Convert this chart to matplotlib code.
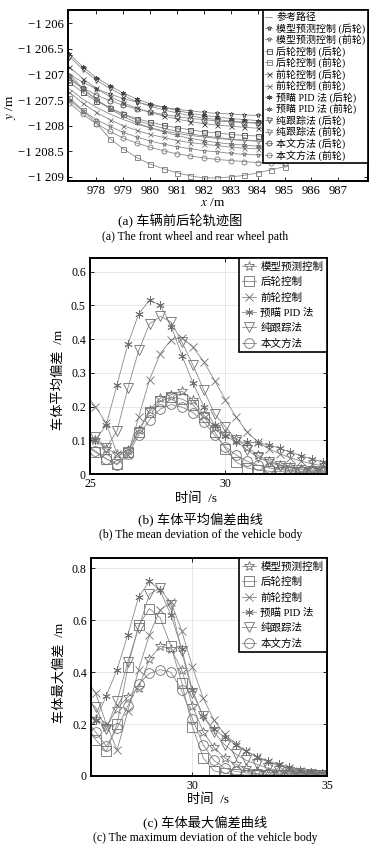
import matplotlib
matplotlib.use('Agg')
import matplotlib.pyplot as plt

plt.rcParams['font.family'] = ['Liberation Serif', 'Noto Sans CJK SC']
plt.rcParams['mathtext.fontset'] = 'stix'
plt.rcParams['axes.unicode_minus'] = True

# ---- (a) wheel paths ----
xa = [977.0, 977.5, 978.0, 978.5, 979.0, 979.5, 980.0, 980.5, 981.0, 981.5,
      982.0, 982.5, 983.0, 983.5, 984.0, 984.5, 985.0]
ref_path = [-1207.28, -1207.48, -1207.64, -1207.77, -1207.88, -1207.97, -1208.04, -1208.10, -1208.15,
            -1208.19, -1208.22, -1208.25, -1208.27, -1208.29, -1208.30, -1208.31, -1208.32]
mpc_rear = [-1207.00, -1207.15, -1207.28, -1207.38, -1207.47, -1207.54, -1207.60, -1207.64, -1207.68,
            -1207.71, -1207.74, -1207.76, -1207.77, -1207.79, -1207.80, -1207.81, -1207.82]
mpc_front = [-1207.50, -1207.71, -1207.88, -1208.01, -1208.13, -1208.22, -1208.30, -1208.36, -1208.41,
             -1208.45, -1208.49, -1208.51, -1208.54, -1208.56, -1208.57, -1208.58, -1208.59]
rwc_rear = [-1207.15, -1207.35, -1207.52, -1207.65, -1207.77, -1207.86, -1207.93, -1207.99, -1208.04,
            -1208.08, -1208.12, -1208.14, -1208.17, -1208.19, -1208.20, -1208.21, -1208.22]
rwc_front = [-1207.45, -1207.70, -1207.95, -1208.25, -1208.45, -1208.62, -1208.75, -1208.84, -1208.92,
             -1208.98, -1209.02, -1209.02, -1209.00, -1208.97, -1208.92, -1208.86, -1208.80]
fwc_rear = [-1206.85, -1207.08, -1207.27, -1207.43, -1207.55, -1207.66, -1207.74, -1207.81, -1207.87,
            -1207.92, -1207.96, -1207.99, -1208.01, -1208.03, -1208.05, -1208.06, -1208.08]
fwc_front = [-1207.35, -1207.56, -1207.74, -1207.88, -1208.00, -1208.09, -1208.17, -1208.23, -1208.29,
             -1208.33, -1208.36, -1208.39, -1208.42, -1208.44, -1208.45, -1208.46, -1208.47]
pid_rear = [-1206.60, -1206.85, -1207.06, -1207.22, -1207.36, -1207.48, -1207.57, -1207.64, -1207.70,
            -1207.76, -1207.80, -1207.83, -1207.86, -1207.88, -1207.90, -1207.92, -1207.93]
pid_front = [-1207.00, -1207.27, -1207.49, -1207.67, -1207.82, -1207.94, -1208.04, -1208.12, -1208.19,
             -1208.25, -1208.29, -1208.33, -1208.36, -1208.38, -1208.40, -1208.42, -1208.43]
pp_rear = [-1206.65, -1206.90, -1207.11, -1207.27, -1207.41, -1207.53, -1207.62, -1207.69, -1207.75,
           -1207.81, -1207.85, -1207.88, -1207.91, -1207.93, -1207.95, -1207.97, -1207.98]
pp_front = [-1207.05, -1207.29, -1207.49, -1207.65, -1207.78, -1207.89, -1207.98, -1208.05, -1208.11,
            -1208.16, -1208.20, -1208.23, -1208.26, -1208.28, -1208.30, -1208.32, -1208.33]
ours_rear = [-1207.10, -1207.26, -1207.40, -1207.51, -1207.60, -1207.67, -1207.73, -1207.78, -1207.82,
             -1207.86, -1207.88, -1207.91, -1207.92, -1207.94, -1207.95, -1207.96, -1207.97]
ours_front = [-1207.55, -1207.78, -1207.96, -1208.11, -1208.24, -1208.34, -1208.42, -1208.49, -1208.55,
              -1208.59, -1208.63, -1208.66, -1208.68, -1208.70, -1208.72, -1208.73, -1208.75]

xa_ticks = [978, 979, 980, 981, 982, 983, 984, 985, 986, 987]
ya_ticks = [-1206, -1206.5, -1207, -1207.5, -1208, -1208.5, -1209]
ya_labels = ['\u22121 206', '\u22121 206.5', '\u22121 207', '\u22121 207.5',
             '\u22121 208', '\u22121 208.5', '\u22121 209']

# ---- (b) mean deviation ----
tb = [24.8, 25.2, 25.6, 26.0, 26.4, 26.8, 27.2, 27.6, 28.0, 28.4, 28.8, 29.2,
      29.6, 30.0, 30.4, 30.8, 31.2, 31.6, 32.0, 32.4, 32.8, 33.2, 33.6, 34.0]
b_mpc = [0.12, 0.10, 0.075, 0.06, 0.07, 0.13, 0.19, 0.225, 0.235, 0.245, 0.22, 0.175,
         0.14, 0.12, 0.105, 0.08, 0.055, 0.04, 0.028, 0.02, 0.015, 0.012, 0.01, 0.01]
b_rwc = [0.085, 0.065, 0.045, 0.03, 0.065, 0.125, 0.185, 0.215, 0.228, 0.222, 0.205, 0.17,
         0.125, 0.075, 0.035, 0.018, 0.012, 0.008, 0.007, 0.006, 0.005, 0.005, 0.005, 0.005]
b_fwc = [0.24, 0.20, 0.15, 0.06, 0.055, 0.17, 0.28, 0.357, 0.398, 0.404, 0.376, 0.333,
         0.277, 0.22, 0.168, 0.125, 0.095, 0.075, 0.06, 0.048, 0.038, 0.03, 0.024, 0.02]
b_pid = [0.09, 0.10, 0.146, 0.265, 0.385, 0.475, 0.515, 0.50, 0.437, 0.35, 0.27, 0.20,
         0.145, 0.113, 0.095, 0.094, 0.092, 0.087, 0.076, 0.065, 0.054, 0.044, 0.036, 0.03]
b_pp = [0.10, 0.11, 0.078, 0.128, 0.255, 0.366, 0.445, 0.467, 0.45, 0.39, 0.323, 0.249,
        0.178, 0.14, 0.10, 0.07, 0.05, 0.035, 0.025, 0.018, 0.013, 0.01, 0.008, 0.007]
b_ours = [0.09, 0.068, 0.045, 0.027, 0.058, 0.115, 0.16, 0.193, 0.206, 0.198, 0.182, 0.155,
          0.115, 0.08, 0.056, 0.038, 0.026, 0.018, 0.013, 0.01, 0.008, 0.007, 0.006, 0.006]

# ---- (c) max deviation ----
tc = [26.0, 26.4, 26.8, 27.2, 27.6, 28.0, 28.4, 28.8, 29.2, 29.6, 30.0, 30.4,
      30.8, 31.2, 31.6, 32.0, 32.4, 32.8, 33.2, 33.6, 34.0, 34.4, 34.8, 35.2]
c_mpc = [0.25, 0.22, 0.19, 0.26, 0.305, 0.34, 0.45, 0.5, 0.49, 0.41, 0.27, 0.17,
         0.11, 0.07, 0.045, 0.03, 0.02, 0.015, 0.012, 0.01, 0.008, 0.007, 0.006, 0.006]
c_rwc = [0.2, 0.14, 0.095, 0.2, 0.42, 0.58, 0.645, 0.61, 0.5, 0.36, 0.19, 0.07,
         0.02, 0.01, 0.006, 0.004, 0.003, 0.003, 0.003, 0.003, 0.003, 0.003, 0.003, 0.003]
c_fwc = [0.38, 0.32, 0.2, 0.1, 0.25, 0.41, 0.545, 0.64, 0.67, 0.56, 0.42, 0.30,
         0.215, 0.16, 0.125, 0.095, 0.073, 0.055, 0.04, 0.03, 0.02, 0.012, 0.008, 0.006]
c_pid = [0.17, 0.215, 0.31, 0.41, 0.545, 0.69, 0.75, 0.715, 0.62, 0.49, 0.33, 0.23,
         0.18, 0.15, 0.12, 0.095, 0.075, 0.058, 0.045, 0.035, 0.025, 0.015, 0.01, 0.008]
c_pp = [0.3, 0.265, 0.18, 0.29, 0.44, 0.57, 0.7, 0.725, 0.66, 0.48, 0.32, 0.23,
        0.17, 0.12, 0.085, 0.06, 0.045, 0.03, 0.02, 0.014, 0.01, 0.007, 0.005, 0.005]
c_ours = [0.22, 0.17, 0.115, 0.185, 0.27, 0.355, 0.395, 0.41, 0.4, 0.33, 0.22, 0.12,
          0.06, 0.03, 0.018, 0.012, 0.008, 0.006, 0.005, 0.005, 0.005, 0.005, 0.005, 0.005]

methods = ['模型预测控制', '后轮控制', '前轮控制', '预瞄 PID 法', '纯跟踪法', '本文方法']
markers = ['*', 's', 'x', (6, 2, 0), 'v', 'o']

LINE = '#8a8a8a'
MARK = '#6e6e6e'


def style_axes(ax):
    for s in ax.spines.values():
        s.set_linewidth(1.4)
        s.set_color('black')
    ax.tick_params(direction='in', top=True, right=True, length=3, width=0.6,
                   labelsize=8.5, pad=3)


fig = plt.figure(figsize=(3.82, 8.51), dpi=100)

# ---------------- (a) ----------------
ax1 = fig.add_axes([68/382, 1-181/851, 300/382, 171/851])
ax1.plot(xa, ref_path, color=LINE, lw=0.6, label='参考路径')
series_a = [(mpc_rear, mpc_front), (rwc_rear, rwc_front), (fwc_rear, fwc_front),
            (pid_rear, pid_front), (pp_rear, pp_front), (ours_rear, ours_front)]
for name, mk, (rear, front) in zip(methods, markers, series_a):
    for ys, tag, ec in [(rear, '(后轮)', '#444444'), (front, '(前轮)', '#777777')]:
        ax1.plot(xa, ys, color=LINE, lw=0.6, marker=mk, ms=3.6, mfc='none',
                 mec=ec, mew=0.6, label=name + ' ' + tag)
ax1.set_xlim(976.95, 988.1)
ax1.set_ylim(-1209.08, -1205.74)
ax1.set_xticks(xa_ticks)
ax1.set_yticks(ya_ticks)
ax1.set_yticklabels(ya_labels)
style_axes(ax1)
ax1.tick_params(labelsize=9.2)
leg = ax1.legend(loc='upper right', bbox_to_anchor=(1.0, 1.0), borderaxespad=0,
                 fontsize=7.2, handlelength=0.7, handletextpad=0.4, labelspacing=0.08,
                 borderpad=0.25, fancybox=False, framealpha=1, edgecolor='black')
leg.get_frame().set_linewidth(1.2)
fig.text(213/382, 1-203/851, '$x$ /m', ha='center', va='center', fontsize=9.5)
fig.text(10/382, 1-107/851, '$y$ /m', ha='center', va='center', fontsize=9.5, rotation=90)
fig.text(180/382, 1-221/851, '(a) 车辆前后轮轨迹图', ha='center', va='center', fontsize=9.5)
fig.text(195/382, 1-237/851, '(a) The front wheel and rear wheel path', ha='center',
         va='center', fontsize=8.5)

# ---------------- (b) ----------------
ax2 = fig.add_axes([90/382, 1-474/851, 237/382, 216/851])
for name, mk, ys in zip(methods, markers, [b_mpc, b_rwc, b_fwc, b_pid, b_pp, b_ours]):
    ms = 7 if mk in ('v', 'o', 's', '*') else 6
    ax2.plot(tb, ys, color=LINE, lw=0.6, marker=mk, ms=ms, mfc='none', mec=MARK,
             mew=0.6, label=name)
ax2.set_xlim(25, 33.75)
ax2.set_ylim(0, 0.64)
ax2.set_xticks([25, 30])
ax2.set_yticks([0, 0.1, 0.2, 0.3, 0.4, 0.5, 0.6])
ax2.set_yticklabels(['0', '0.1', '0.2', '0.3', '0.4', '0.5', '0.6'])
ax2.grid(True, color='#e4e4e4', lw=0.6)
style_axes(ax2)
leg2 = ax2.legend(loc='upper right', bbox_to_anchor=(1.0, 1.0), borderaxespad=0,
                  fontsize=7.6, handlelength=1.3, handletextpad=0.4, labelspacing=0.5,
                  borderpad=0.35, fancybox=False, framealpha=1, edgecolor='black')
leg2.get_frame().set_linewidth(1.2)
fig.text(196/382, 1-499/851, '时间  /s', ha='center', va='center', fontsize=9.5)
fig.text(59/382, 1-380/851, '车体平均偏差  /m', ha='center', va='center', fontsize=9.5,
         rotation=90)
fig.text(200/382, 1-520/851, '(b) 车体平均偏差曲线', ha='center', va='center', fontsize=9.5)
fig.text(201/382, 1-535/851, '(b) The mean deviation of the vehicle body', ha='center',
         va='center', fontsize=8.5)

# ---------------- (c) ----------------
ax3 = fig.add_axes([91/382, 1-776/851, 236/382, 218/851])
for name, mk, ys in zip(methods, markers, [c_mpc, c_rwc, c_fwc, c_pid, c_pp, c_ours]):
    ms = 7 if mk in ('v', 'o', 's', '*') else 6
    ax3.plot(tc, ys, color=LINE, lw=0.6, marker=mk, ms=ms, mfc='none', mec=MARK,
             mew=0.6, label=name)
ax3.set_xlim(26.23, 35)
ax3.set_ylim(0, 0.84)
ax3.set_xticks([30, 35])
ax3.set_yticks([0, 0.2, 0.4, 0.6, 0.8])
ax3.set_yticklabels(['0', '0.2', '0.4', '0.6', '0.8'])
ax3.grid(True, color='#e4e4e4', lw=0.6)
style_axes(ax3)
leg3 = ax3.legend(loc='upper right', bbox_to_anchor=(1.0, 1.0), borderaxespad=0,
                  fontsize=7.6, handlelength=1.3, handletextpad=0.4, labelspacing=0.5,
                  borderpad=0.35, fancybox=False, framealpha=1, edgecolor='black')
leg3.get_frame().set_linewidth(1.2)
fig.text(208/382, 1-800/851, '时间  /s', ha='center', va='center', fontsize=9.5)
fig.text(59/382, 1-673/851, '车体最大偏差  /m', ha='center', va='center', fontsize=9.5,
         rotation=90)
fig.text(205/382, 1-823/851, '(c) 车体最大偏差曲线', ha='center', va='center', fontsize=9.5)
fig.text(205/382, 1-838/851, '(c) The maximum deviation of the vehicle body', ha='center',
         va='center', fontsize=8.5)

fig.savefig('out.png', dpi=100)
